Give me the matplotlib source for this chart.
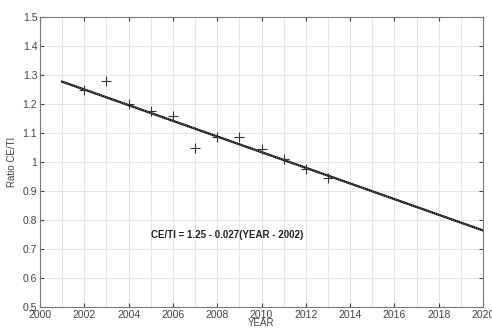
import matplotlib.pyplot as plt
import numpy as np

plt.rcParams['font.family'] = ['Liberation Sans', 'DejaVu Sans']

years = [2002, 2003, 2004, 2005, 2006, 2007, 2008, 2009, 2010, 2011, 2012, 2013]
ratio = [1.25, 1.28, 1.20, 1.175, 1.16, 1.05, 1.085, 1.085, 1.045, 1.01, 0.975, 0.945]

fit_years = np.array([2001, 2020])
intercept = 1.25
slope = -0.027
fit_ratio = intercept + slope * (fit_years - 2002)

fig = plt.figure(figsize=(4.92, 3.31), dpi=100)
ax = fig.add_axes([40/492, 1 - 307/331, 443/492, 290/331])

ax.plot(fit_years, fit_ratio, color='black', linewidth=1.6)
ax.plot(fit_years, fit_ratio, color='#888888', linewidth=0.8, linestyle=(0, (1, 1)))
ax.plot(years, ratio, linestyle='none', marker='+', markersize=7, color='#333333', markeredgewidth=0.8)

ax.set_xlim(2000, 2020)
ax.set_ylim(0.5, 1.5)
ax.set_xticks(np.arange(2000, 2021, 2))
ax.set_xticks(np.arange(2001, 2020, 2), minor=True)
ax.set_yticks(np.arange(0.5, 1.51, 0.1))
ax.set_yticklabels(['0.5', '0.6', '0.7', '0.8', '0.9', '1', '1.1', '1.2', '1.3', '1.4', '1.5'])
ax.grid(True, which='both', color='#e6e6e6', linewidth=0.7)
ax.set_axisbelow(True)
ax.tick_params(labelsize=7.5, colors='#444444', length=3, which='major', direction='in', top=True, right=True, pad=2)
ax.tick_params(which='minor', length=0)
for s in ax.spines.values():
    s.set_color('#777777')

ax.text(2005, 0.75, 'CE/TI = 1.25 - 0.027(YEAR - 2002)', fontsize=7, fontweight='bold', color='#222222', va='center')

ax.set_xlabel('YEAR', fontsize=7, color='#444444', labelpad=-1)
ax.set_ylabel('Ratio CE/TI', fontsize=7, color='#444444', labelpad=4)

plt.savefig('out.png', dpi=100)
